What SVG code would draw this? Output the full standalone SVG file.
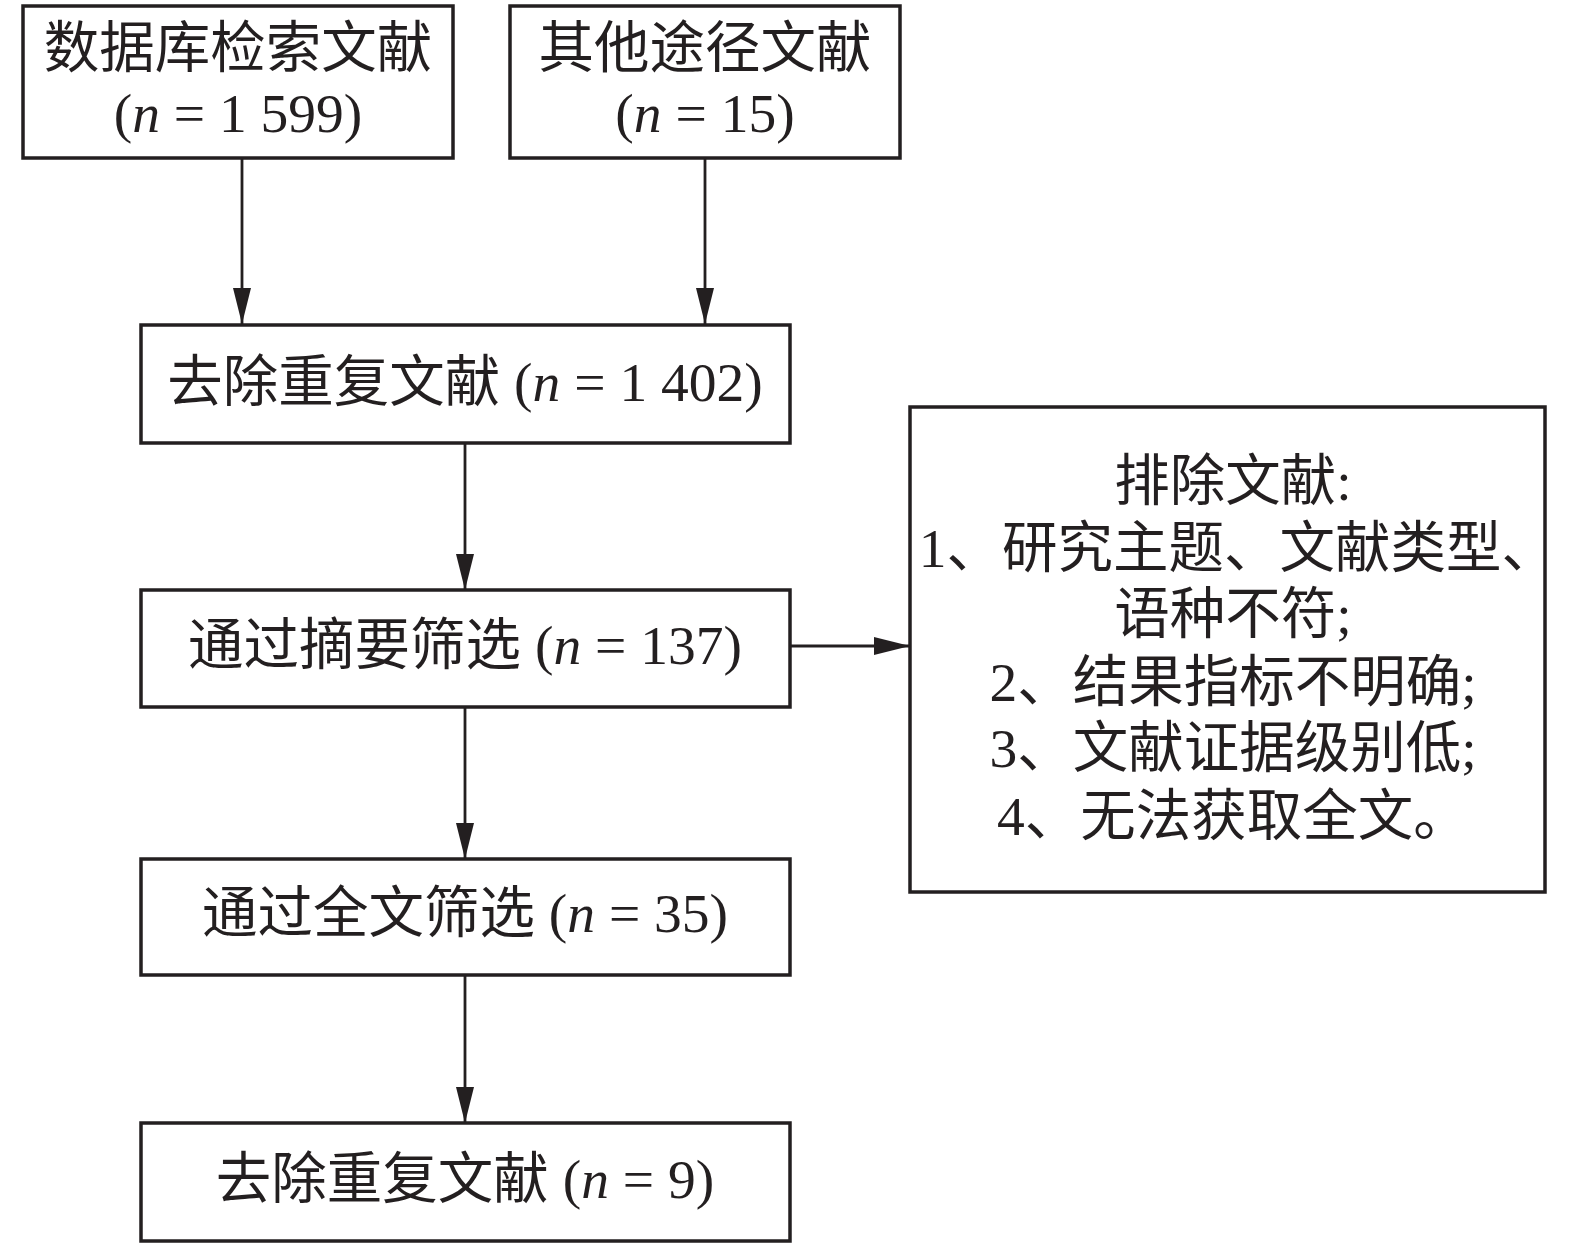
<svg xmlns="http://www.w3.org/2000/svg" width="1575" height="1248" viewBox="0 0 1575 1248">
<style>
.box{fill:#fff;stroke:#231f20;stroke-width:3.5}
.t{font-family:"Liberation Serif","Noto Sans CJK SC",serif;font-size:55.5px;fill:#231f20;text-anchor:middle}
.i{font-style:italic}
.c{stroke:#231f20;stroke-width:2.8;fill:none;marker-end:url(#ah)}
</style>
<defs>
<marker id="ah" markerUnits="userSpaceOnUse" markerWidth="36" markerHeight="18" refX="36" refY="9" orient="auto" viewBox="0 0 36 18">
<path d="M0,0 L36,9 L0,18 z" fill="#231f20"/>
</marker>
</defs>
<g id="connectors">
<line class="c" x1="242" y1="158" x2="242" y2="324"/>
<line class="c" x1="705" y1="158" x2="705" y2="324"/>
<line class="c" x1="465" y1="443" x2="465" y2="590"/>
<line class="c" x1="465" y1="707" x2="465" y2="859"/>
<line class="c" x1="465" y1="975" x2="465" y2="1123"/>
<line class="c" x1="790" y1="646" x2="910" y2="646"/>
</g>
<g id="db">
<rect class="box" x="23" y="6" width="430" height="152"/>
<text class="t" x="238" y="67">数据库检索文献</text>
<text class="t" x="238" y="132">(<tspan class="i">n</tspan> = 1 599)</text>
</g>
<g id="other">
<rect class="box" x="510" y="6" width="390" height="152"/>
<text class="t" x="705" y="67">其他途径文献</text>
<text class="t" x="705" y="132">(<tspan class="i">n</tspan> = 15)</text>
</g>
<g id="dedup1">
<rect class="box" x="141" y="325" width="649" height="118"/>
<text class="t" x="465" y="401">去除重复文献 (<tspan class="i">n</tspan> = 1 402)</text>
</g>
<g id="abstract">
<rect class="box" x="141" y="590" width="649" height="117"/>
<text class="t" x="465" y="664">通过摘要筛选 (<tspan class="i">n</tspan> = 137)</text>
</g>
<g id="fulltext">
<rect class="box" x="141" y="859" width="649" height="116"/>
<text class="t" x="465" y="932">通过全文筛选 (<tspan class="i">n</tspan> = 35)</text>
</g>
<g id="dedup2">
<rect class="box" x="141" y="1123" width="649" height="118"/>
<text class="t" x="465" y="1198">去除重复文献 (<tspan class="i">n</tspan> = 9)</text>
</g>
<g id="excluded">
<rect class="box" x="910" y="407" width="635" height="485"/>
<text class="t" x="1233" y="500">排除文献:</text>
<text class="t" x="1238" y="567">1、研究主题、文献类型、</text>
<text class="t" x="1233" y="633">语种不符;</text>
<text class="t" x="1233" y="701">2、结果指标不明确;</text>
<text class="t" x="1233" y="767">3、文献证据级别低;</text>
<text class="t" x="1233" y="835">4、无法获取全文。</text>
</g>
</svg>
